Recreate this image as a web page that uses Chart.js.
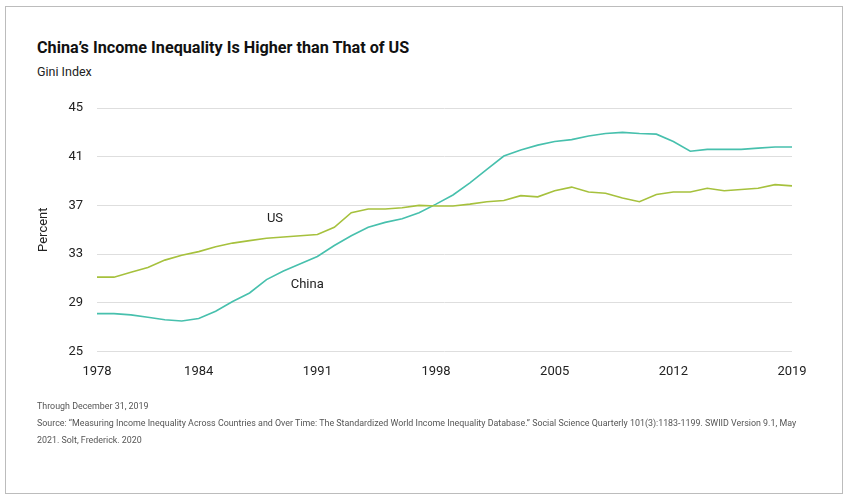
<!DOCTYPE html>
<html>
<head>
<meta charset="utf-8">
<script src="https://cdn.jsdelivr.net/npm/chart.js@4/dist/chart.umd.min.js"></script>
<style>
  html, body { margin: 0; padding: 0; background: #fff; }
  body { width: 848px; height: 500px; position: relative; overflow: hidden; font-family: Roboto, "Noto Sans", sans-serif; }
  .frame { position: absolute; left: 5px; top: 6px; width: 836px; height: 486px; border: 1.5px solid #bcbcbc; }
  .title { position: absolute; left: 37px; top: 38px; font-size: 16.2px; font-weight: 700; color: #111; white-space: nowrap; letter-spacing: 0px; }
  .subtitle { position: absolute; left: 37px; top: 64px; font-size: 12.5px; color: #222; white-space: nowrap; }
  .notes { position: absolute; left: 37px; top: 398px; font-size: 8.9px; color: #555; line-height: 17px; width: 800px; white-space: nowrap; }
  .chart-wrap { position: absolute; left: 0; top: 0; width: 848px; height: 400px; }
</style>
</head>
<body>
<div class="frame"></div>
<div class="title">China’s Income Inequality Is Higher than That of US</div>
<div class="subtitle">Gini Index</div>
<div class="chart-wrap"><canvas id="chart"></canvas></div>
<div class="notes">
  <div>Through December 31, 2019</div>
  <div>Source: “Measuring Income Inequality Across Countries and Over Time: The Standardized World Income Inequality Database.” Social Science Quarterly 101(3):1183-1199. SWIID Version 9.1, May</div>
  <div>2021. Solt, Frederick. 2020</div>
</div>
<script>
const years = []
for (let y = 1978; y <= 2019; y++) years.push(String(y))

const shownYears = ['1978', '1984', '1991', '1998', '2005', '2012', '2019']
const yTicks = [25, 29, 33, 37, 41, 45]

const usValues = [
  31.1, 31.1, 31.5, 31.9, 32.5, 32.9, 33.2, 33.6, 33.9, 34.1,
  34.3, 34.4, 34.5, 34.6, 35.2, 36.4, 36.7, 36.7, 36.8, 37.0,
  36.95, 36.95, 37.1, 37.3, 37.4, 37.8, 37.7, 38.2, 38.5, 38.1,
  38.0, 37.6, 37.3, 37.9, 38.1, 38.1, 38.4, 38.2, 38.3, 38.4,
  38.7, 38.6
]

const chinaValues = [
  28.1, 28.1, 28.0, 27.8, 27.6, 27.5, 27.7, 28.3, 29.1, 29.8,
  30.9, 31.6, 32.2, 32.8, 33.7, 34.5, 35.2, 35.6, 35.9, 36.4,
  37.1, 37.85, 38.85, 39.95, 41.05, 41.55, 41.95, 42.25, 42.4, 42.7,
  42.9, 43.0, 42.9, 42.85, 42.25, 41.45, 41.6, 41.6, 41.6, 41.7,
  41.8, 41.8
]

// series labels sit next to the lines, placed in data units
const seriesLabels = [
  { text: 'US', x: 10.5, y: 35.9 },
  { text: 'China', x: 12.4, y: 30.5 }
]

const lineLabels = {
  id: 'lineLabels',
  afterDatasetsDraw(chart) {
    const { ctx, scales } = chart
    ctx.save()
    ctx.font = '13px Roboto, "Noto Sans", sans-serif'
    ctx.fillStyle = '#222'
    ctx.textAlign = 'center'
    ctx.textBaseline = 'middle'
    seriesLabels.forEach((l) => {
      ctx.fillText(l.text, scales.x.getPixelForValue(l.x), scales.y.getPixelForValue(l.y))
    })
    ctx.restore()
  }
}

new Chart(document.getElementById('chart'), {
  type: 'line',
  data: {
    labels: years,
    datasets: [{
      label: 'US',
      data: usValues,
      borderColor: '#a6c13d',
      borderWidth: 1.6,
      pointRadius: 0,
      tension: 0
    }, {
      label: 'China',
      data: chinaValues,
      borderColor: '#47c0ad',
      borderWidth: 1.6,
      pointRadius: 0,
      tension: 0
    }]
  },
  options: {
    responsive: true,
    maintainAspectRatio: false,
    animation: false,
    layout: {
      padding: { left: 30, right: 56, top: 108, bottom: 7 }
    },
    plugins: {
      legend: { display: false },
      tooltip: { enabled: false }
    },
    scales: {
      x: {
        grid: { display: false, drawTicks: false },
        border: { display: false },
        ticks: {
          autoSkip: false,
          maxRotation: 0,
          padding: 13,
          color: '#222',
          font: { family: 'Roboto', size: 13 },
          callback: function(value) {
            const label = this.getLabelForValue(value)
            return shownYears.includes(label) ? label : ''
          }
        }
      },
      y: {
        min: 25,
        max: 45,
        afterBuildTicks: (scale) => {
          scale.ticks = yTicks.map((v) => ({ value: v }))
        },
        afterFit: (scale) => {
          scale.width = 67
        },
        grid: { color: '#dedede', lineWidth: 1, drawTicks: false },
        border: { display: false },
        ticks: {
          padding: 14,
          color: '#222',
          font: { family: 'Roboto', size: 13 }
        },
        title: {
          display: true,
          text: 'Percent',
          color: '#222',
          padding: { top: 6 },
          font: { family: 'Roboto', size: 13 }
        }
      }
    }
  },
  plugins: [lineLabels]
})
</script>
</body>
</html>
